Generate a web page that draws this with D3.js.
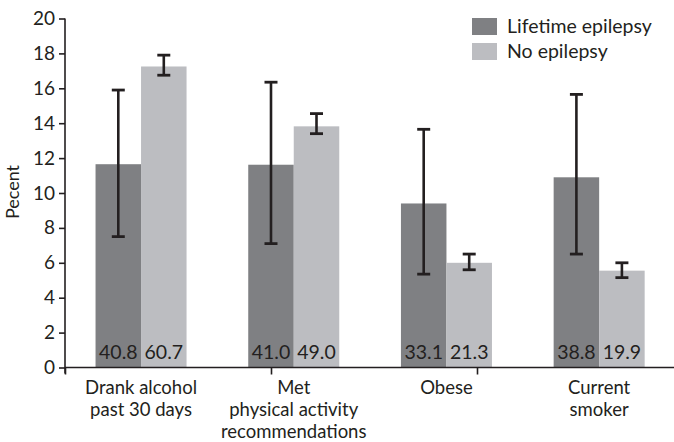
<!DOCTYPE html>
<html><head><meta charset="utf-8">
<script src="https://cdn.jsdelivr.net/npm/d3@7"></script>
<style>
body{margin:0;background:#fff;}
svg text{font-family:Lato,"Open Sans",sans-serif;fill:#231f20;}
</style></head>
<body><svg id="c" width="674" height="442"></svg>
<script>
const categories = [["Drank alcohol","past 30 days"],["Met","physical activity","recommendations"],["Obese"],["Current","smoker"]];
const seriesNames = ["Lifetime epilepsy","No epilepsy"];
const lifetimeValues = [11.65, 11.62, 9.4, 10.9];
const lifetimeLow = [7.5, 7.1, 5.35, 6.5];
const lifetimeHigh = [15.9, 16.35, 13.65, 15.65];
const lifetimeLabels = ["40.8","41.0","33.1","38.8"];
const noValues = [17.25, 13.82, 6.0, 5.55];
const noLow = [16.75, 13.4, 5.6, 5.15];
const noHigh = [17.9, 14.55, 6.5, 6.0];
const noLabels = ["60.7","49.0","21.3","19.9"];
const yTicks = [0,2,4,6,8,10,12,14,16,18,20];
const colors = ["#7f8083","#bcbdc1"];

const svg = d3.select("#c");
const x0 = 65, yBase = 367.5, yTop = 18.5;
const y = d3.scaleLinear().domain([0,20]).range([yBase,yTop]);
const catKeys = categories.map((c,i)=>i);
const x = d3.scaleBand().domain(catKeys).range([x0,675.2]).paddingInner(0.404).paddingOuter(0.2);
const xs = d3.scaleBand().domain([0,1]).range([0,x.bandwidth()]);

const series = [
  {vals:lifetimeValues, lo:lifetimeLow, hi:lifetimeHigh, labels:lifetimeLabels},
  {vals:noValues, lo:noLow, hi:noHigh, labels:noLabels}
];

// bars
series.forEach((s,si)=>{
  const g = svg.append("g");
  g.selectAll("rect").data(s.vals).enter().append("rect")
    .attr("x",(d,i)=>x(i)+xs(si)).attr("width",xs.bandwidth())
    .attr("y",d=>y(d)).attr("height",d=>y(0)-y(d))
    .attr("fill",colors[si]);
});

// axes
const yAxis = d3.axisLeft(y).tickValues(yTicks).tickSize(6).tickPadding(4);
const ya = svg.append("g").attr("transform",`translate(${x0},0)`).call(yAxis);
ya.select(".domain").attr("d",`M-0,${yTop}V${yBase+6}`).attr("stroke","#231f20").attr("stroke-width",1.6);
ya.selectAll(".tick line").attr("stroke","#231f20").attr("stroke-width",1.6);
ya.selectAll(".tick text").style("font-size","19px").attr("font-family","Lato").attr("fill","#231f20");

const xt = d3.scaleLinear().domain([0,3]).range([x0, x0+3*206]);
const xAxis = d3.axisBottom(xt).tickValues([0,1,2]).tickSize(7).tickFormat("");
const xa = svg.append("g").attr("transform",`translate(0,${yBase})`).call(xAxis);
xa.select(".domain").attr("d",`M${x0},0H674`).attr("stroke","#231f20").attr("stroke-width",1.6);
xa.selectAll(".tick line").attr("stroke","#231f20").attr("stroke-width",1.6);

// value labels
series.forEach((s,si)=>{
  svg.append("g").selectAll("text").data(s.labels).enter().append("text")
    .attr("x",(d,i)=>x(i)+xs(si)+xs.bandwidth()/2).attr("y",yBase-8.5)
    .attr("text-anchor","middle").style("font-size","19.5px").text(d=>d);
});

// error bars
series.forEach((s,si)=>{
  const g = svg.append("g").attr("stroke","#231f20");
  s.vals.forEach((v,i)=>{
    const cx = x(i)+xs(si)+xs.bandwidth()/2;
    g.append("line").attr("x1",cx).attr("x2",cx).attr("y1",y(s.lo[i])).attr("y2",y(s.hi[i])).attr("stroke-width",2.6);
    [s.lo[i],s.hi[i]].forEach(e=>{
      g.append("line").attr("x1",cx-6.5).attr("x2",cx+6.5).attr("y1",y(e)).attr("y2",y(e)).attr("stroke-width",2.8);
    });
  });
});

// category labels (one text per line)
categories.forEach((lines,i)=>{
  lines.forEach((ln,j)=>{
    svg.append("text").attr("text-anchor","middle").style("font-size","18.5px")
      .attr("x",x(i)+x.bandwidth()/2).attr("y",394+j*21.8).text(ln);
  });
});

// y title
svg.append("text").attr("transform","translate(19,192) rotate(-90)").attr("text-anchor","middle")
  .style("font-size","18px").text("Pecent");

// legend
seriesNames.forEach((n,i)=>{
  svg.append("rect").attr("x",472).attr("y",18+i*25).attr("width",25).attr("height",17).attr("fill",colors[i]);
  svg.append("text").attr("x",507).attr("y",33+i*24.5).style("font-size","19.5px").text(n);
});
</script></body></html>
